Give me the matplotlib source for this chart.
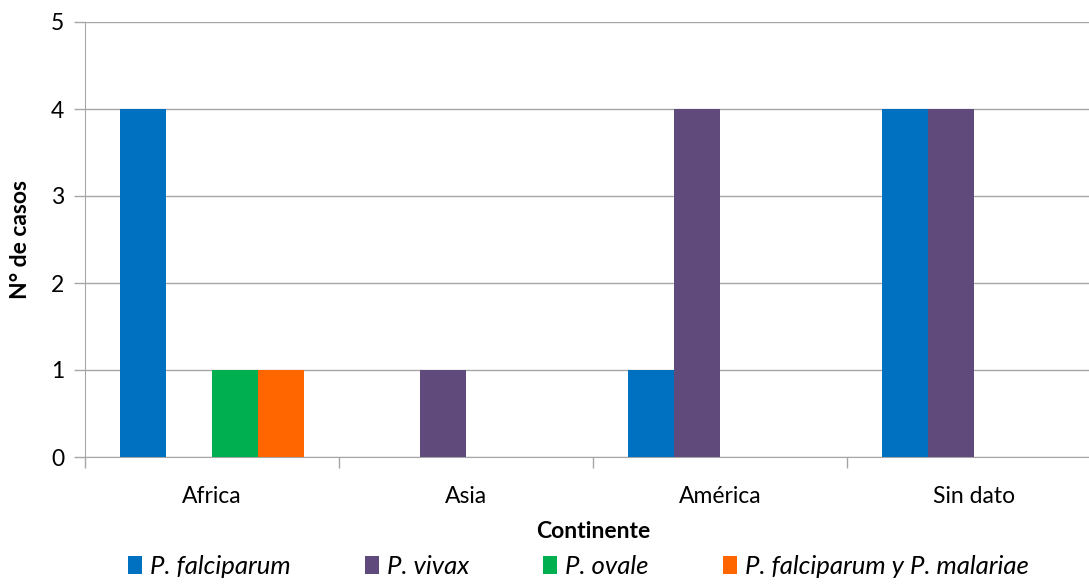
import numpy as np
import matplotlib.pyplot as plt
from matplotlib.patches import Patch

plt.rcParams['font.family'] = ['Lato', 'DejaVu Sans']

continentes = ['Africa', 'Asia', 'América', 'Sin dato']
especies = ['P. falciparum', 'P. vivax', 'P. ovale', 'P. falciparum y P. malariae']
falciparum = [4, 0, 1, 4]
vivax = [0, 1, 4, 4]
ovale = [1, 0, 0, 0]
mixta = [1, 0, 0, 0]
colores = ['#0070C0', '#604A7B', '#00B050', '#FF6600']

series = [falciparum, vivax, ovale, mixta]

fig = plt.figure(figsize=(10.89, 5.85), dpi=100)
ax = fig.add_axes([85 / 1089, 1 - 457 / 585, 1016 / 1089, 435 / 585])

x = np.arange(len(continentes))
ancho = 46 / 254
for i, (vals, col) in enumerate(zip(series, colores)):
    ax.bar(x + (i - 1.5) * ancho, vals, ancho, color=col, zorder=3)

ax.set_xlim(-0.5, len(continentes) - 0.5)
ax.set_ylim(0, 5)
ax.set_yticks(range(6))
ax.yaxis.grid(True, color='#A6A6A6', linewidth=1, zorder=0)

# categorías en el centro, marcas en los límites entre grupos
ax.set_xticks(x)
ax.set_xticklabels(continentes, fontsize=16.5)
ax.set_xticks(np.arange(-0.5, len(continentes)), minor=True)
ax.tick_params(axis='x', which='major', length=0, pad=21)
ax.tick_params(axis='x', which='minor', length=8, color='#A6A6A6', width=1)
ax.tick_params(axis='y', length=8, color='#A6A6A6', width=1, labelsize=16.5, pad=7)

for lado in ['top', 'right']:
    ax.spines[lado].set_visible(False)
for lado in ['left', 'bottom']:
    ax.spines[lado].set_color('#A6A6A6')

ax.set_ylabel('N° de casos', fontsize=16.5, fontweight='bold', labelpad=14)
ax.set_xlabel('Continente', fontsize=16.5, fontweight='bold', labelpad=10)

handles = [Patch(facecolor=c) for c in colores]
fig.legend(handles, especies, loc='center', bbox_to_anchor=(0.531, 0.032),
           ncol=4, frameon=False, prop={'style': 'italic', 'size': 18.5},
           handlelength=0.55, handleheight=0.7, handletextpad=0.3, columnspacing=2.9)

fig.savefig('out.png', dpi=100)
